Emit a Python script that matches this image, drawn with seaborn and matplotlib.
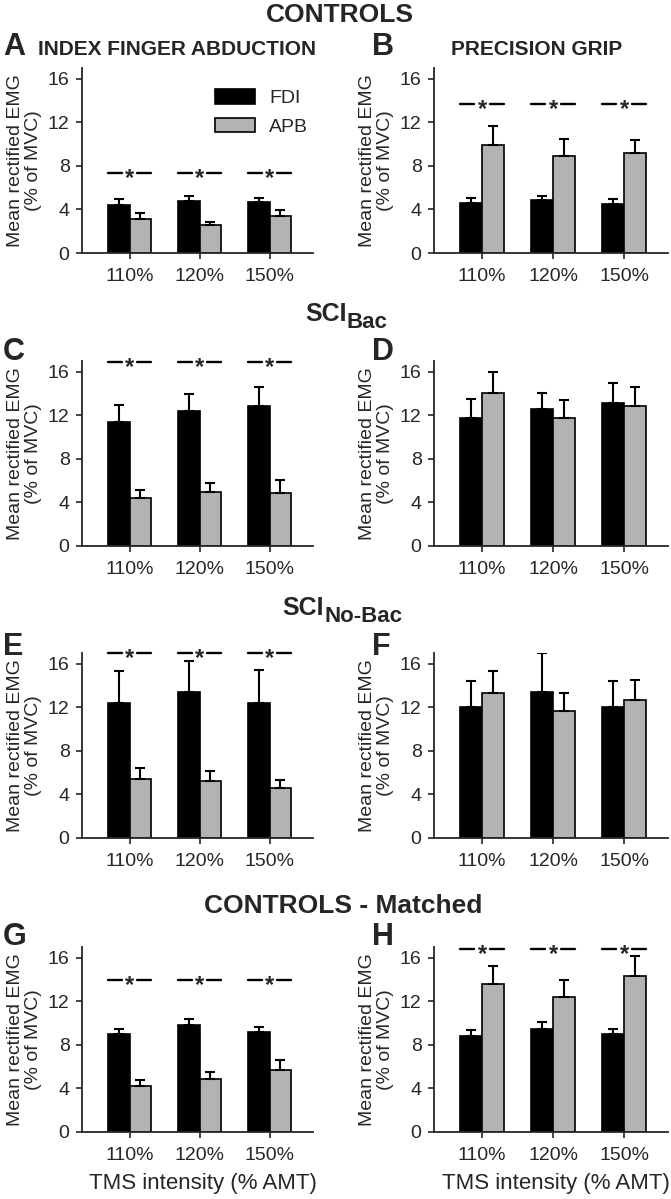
import numpy as np
import pandas as pd
import matplotlib
matplotlib.use("Agg")
import matplotlib.pyplot as plt
import seaborn as sns

sns.set_style("ticks")
plt.rcParams['font.family'] = ['Liberation Sans', 'DejaVu Sans']

intensities = ["110%", "120%", "150%"]
muscles = ["FDI", "APB"]
colors = {"FDI": "black", "APB": "#b3b3b3"}

# Controls - index finger abduction (A)
a_fdi = [4.45, 4.78, 4.68]
a_fdi_sem = [0.50, 0.42, 0.42]
a_apb = [3.10, 2.55, 3.38]
a_apb_sem = [0.60, 0.30, 0.60]
# Controls - precision grip (B)
b_fdi = [4.60, 4.85, 4.50]
b_fdi_sem = [0.45, 0.38, 0.45]
b_apb = [9.95, 8.95, 9.15]
b_apb_sem = [1.75, 1.55, 1.20]
# SCI Bac (C, D)
c_fdi = [11.36, 12.37, 12.89]
c_fdi_sem = [1.62, 1.61, 1.71]
c_apb = [4.43, 4.98, 4.89]
c_apb_sem = [0.73, 0.79, 1.19]
d_fdi = [11.76, 12.55, 13.10]
d_fdi_sem = [1.74, 1.50, 1.86]
d_apb = [14.05, 11.76, 12.85]
d_apb_sem = [1.98, 1.64, 1.75]
# SCI No-Bac (E, F)
e_fdi = [12.39, 13.40, 12.39]
e_fdi_sem = [2.98, 2.90, 3.07]
e_apb = [5.40, 5.25, 4.63]
e_apb_sem = [1.04, 0.92, 0.67]
f_fdi = [12.02, 13.40, 12.05]
f_fdi_sem = [2.43, 3.60, 2.40]
f_apb = [13.28, 11.69, 12.64]
f_apb_sem = [2.09, 1.68, 1.86]
# Controls - matched (G, H)
g_fdi = [8.98, 9.80, 9.19]
g_fdi_sem = [0.52, 0.55, 0.46]
g_apb = [4.27, 4.89, 5.71]
g_apb_sem = [0.55, 0.58, 0.92]
h_fdi = [8.82, 9.50, 9.00]
h_fdi_sem = [0.55, 0.58, 0.44]
h_apb = [13.59, 12.43, 14.30]
h_apb_sem = [1.68, 1.52, 1.85]

# height of the "-*-" significance marks (None = no marks)
sig_a, sig_b = 7.35, 13.7
sig_c, sig_d = 16.9, None
sig_e, sig_f = 17.0, None
sig_g, sig_h = 13.95, 16.85

W, H = 671, 1199
fig = plt.figure(figsize=(W / 100, H / 100), dpi=100)


def fx(px):
    return px / W


def fy(py):
    return 1 - py / H


def panel(left, right, bottom, fdi, fdi_sem, apb, apb_sem, sig, legend=False, xlabel=False):
    ax = fig.add_axes([fx(left), fy(bottom), fx(right - left), 185 / H])
    df = pd.DataFrame({
        "intensity": intensities * 2,
        "muscle": ["FDI"] * 3 + ["APB"] * 3,
        "emg": fdi + apb,
    })
    sns.barplot(data=df, x="intensity", y="emg", hue="muscle", order=intensities,
                hue_order=muscles, palette=colors, width=0.62, edgecolor="black",
                linewidth=1.2, errorbar=None, legend=legend, ax=ax)
    for cont, sem in zip(ax.containers, [fdi_sem, apb_sem]):
        for bar, s in zip(cont, sem):
            x = bar.get_x() + bar.get_width() / 2
            ax.errorbar(x, bar.get_height(), yerr=[[0], [s]], fmt="none",
                        ecolor="black", elinewidth=1.5, capsize=3.5, capthick=1.5, zorder=3)
    if sig is not None:
        for i in range(len(intensities)):
            ax.plot([i - 0.31, i - 0.11], [sig, sig], color="black", lw=1.7, clip_on=False)
            ax.plot([i + 0.11, i + 0.31], [sig, sig], color="black", lw=1.7, clip_on=False)
            ax.annotate("*", (i, sig), xytext=(0, -4), textcoords="offset points",
                        ha="center", va="center", fontsize=17, fontweight="bold",
                        annotation_clip=False)
    ax.set_ylim(0, 17)
    ax.set_xlim(-0.68, 2.62)
    ax.set_yticks([0, 4, 8, 12, 16])
    ax.tick_params(axis="both", labelsize=14, length=4, width=1.2)
    ax.tick_params(axis="x", length=4, pad=7)
    ax.tick_params(axis="y", pad=5)
    ax.set_xlabel("")
    ax.set_ylabel("Mean rectified EMG\n(% of MVC)", fontsize=14, labelpad=4, linespacing=1.1)
    for sp in ["left", "bottom"]:
        ax.spines[sp].set_linewidth(1.3)
    sns.despine(ax=ax)
    if legend:
        ax.legend(loc="upper left", bbox_to_anchor=(0.54, 0.93), frameon=False,
                  borderaxespad=0, handlelength=2.1, handleheight=0.8, fontsize=14,
                  labelspacing=0.55, handletextpad=0.7, title=None)
    if xlabel:
        fig.text(fx((left + right) / 2 + 5), fy(1189), "TMS intensity (% AMT)",
                 ha="center", va="baseline", fontsize=16)
    return ax


cols = [(82, 313), (434, 668)]
rows = [253, 546, 838, 1132]

panel(*cols[0], rows[0], a_fdi, a_fdi_sem, a_apb, a_apb_sem, sig_a, legend=True)
panel(*cols[1], rows[0], b_fdi, b_fdi_sem, b_apb, b_apb_sem, sig_b)
panel(*cols[0], rows[1], c_fdi, c_fdi_sem, c_apb, c_apb_sem, sig_c)
panel(*cols[1], rows[1], d_fdi, d_fdi_sem, d_apb, d_apb_sem, sig_d)
panel(*cols[0], rows[2], e_fdi, e_fdi_sem, e_apb, e_apb_sem, sig_e)
panel(*cols[1], rows[2], f_fdi, f_fdi_sem, f_apb, f_apb_sem, sig_f)
panel(*cols[0], rows[3], g_fdi, g_fdi_sem, g_apb, g_apb_sem, sig_g, xlabel=True)
panel(*cols[1], rows[3], h_fdi, h_fdi_sem, h_apb, h_apb_sem, sig_h, xlabel=True)

# group headings
bold = dict(fontweight="bold", va="baseline")
fig.text(fx(340), fy(22), "CONTROLS", ha="center", fontsize=19, **bold)
fig.text(fx(347), fy(321), "SCI", ha="right", fontsize=18, **bold)
fig.text(fx(347), fy(328), "Bac", ha="left", fontsize=16, **bold)
fig.text(fx(324), fy(615), "SCI", ha="right", fontsize=18, **bold)
fig.text(fx(324), fy(622), "No-Bac", ha="left", fontsize=16, **bold)
fig.text(fx(343), fy(913), "CONTROLS - Matched", ha="center", fontsize=19, **bold)

# task titles
fig.text(fx(38), fy(55), "INDEX FINGER ABDUCTION", ha="left", fontsize=15, **bold)
fig.text(fx(451), fy(55), "PRECISION GRIP", ha="left", fontsize=15, **bold)

# panel letters
letters = ["A", "B", "C", "D", "E", "F", "G", "H"]
letter_y = [55, 55, 360, 360, 655, 655, 945, 945]
for i, (lt, ly) in enumerate(zip(letters, letter_y)):
    lx = 3 if i % 2 == 0 else 372
    fig.text(fx(lx), fy(ly), lt, ha="left", fontsize=22, **bold)

fig.savefig("out.png", dpi=100)
